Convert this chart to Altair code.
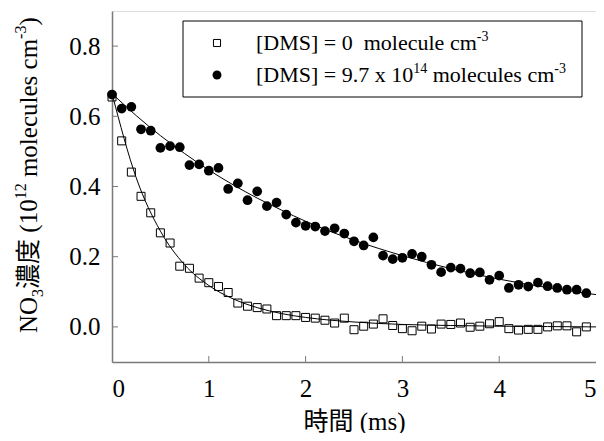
import altair as alt
import pandas as pd

# ---------------- data ----------------
time_ms = [0.0, 0.1, 0.2, 0.3, 0.4, 0.5, 0.6, 0.7, 0.8, 0.9,
           1.0, 1.1, 1.2, 1.3, 1.4, 1.5, 1.6, 1.7, 1.8, 1.9,
           2.0, 2.1, 2.2, 2.3, 2.4, 2.5, 2.6, 2.7, 2.8, 2.9,
           3.0, 3.1, 3.2, 3.3, 3.4, 3.5, 3.6, 3.7, 3.8, 3.9,
           4.0, 4.1, 4.2, 4.3, 4.4, 4.5, 4.6, 4.7, 4.8, 4.9]

no3_dms0 = [0.655, 0.530, 0.441, 0.372, 0.325, 0.268, 0.239, 0.173, 0.167, 0.139,
            0.126, 0.115, 0.098, 0.068, 0.059, 0.055, 0.051, 0.032, 0.032, 0.032,
            0.027, 0.025, 0.019, 0.011, 0.025, -0.008, 0.002, 0.008, 0.023, 0.004,
            -0.005, -0.011, 0.002, -0.006, 0.008, 0.007, 0.011, -0.001, 0.002, 0.009,
            0.015, -0.005, -0.009, -0.007, -0.007, 0.000, 0.003, 0.003, -0.014, 0.000]

no3_dms97 = [0.662, 0.622, 0.627, 0.563, 0.559, 0.510, 0.515, 0.512, 0.461, 0.463,
             0.445, 0.453, 0.393, 0.409, 0.361, 0.386, 0.344, 0.354, 0.320, 0.297,
             0.288, 0.286, 0.273, 0.281, 0.266, 0.244, 0.232, 0.255, 0.203, 0.193,
             0.197, 0.208, 0.200, 0.177, 0.156, 0.169, 0.166, 0.153, 0.155, 0.134,
             0.146, 0.111, 0.120, 0.115, 0.126, 0.116, 0.111, 0.106, 0.106, 0.096]

fit_t = [0.0, 0.25, 0.5, 0.75, 1.0, 1.25, 1.5, 1.75, 2.0, 2.5, 3.0, 3.5, 4.0, 4.5, 5.0]
fit_dms0 = [0.665, 0.425, 0.273, 0.177, 0.118, 0.080, 0.055, 0.038, 0.027,
            0.014, 0.007, 0.004, 0.002, 0.001, 0.000]
fit_dms97 = [0.665, 0.602, 0.545, 0.494, 0.447, 0.405, 0.367, 0.333, 0.301,
             0.247, 0.203, 0.166, 0.136, 0.112, 0.092]

y_ticks = [0.0, 0.2, 0.4, 0.6, 0.8]
x_ticks = [0, 1, 2, 3, 4, 5]
x_inner_ticks = [1, 2, 3, 4]

# ---------------- layout / style ----------------
W, H = 484, 351
SERIF = "Liberation Serif"
CJK_MIX = "Liberation Serif, Noto Sans CJK JP"
CJK = "Noto Sans CJK JP"
GRAY = "#7a7a7a"

pts = pd.DataFrame({"t": time_ms, "a": no3_dms0, "b": no3_dms97})
fit = pd.DataFrame({"t": fit_t, "a": fit_dms0, "b": fit_dms97})

xs = alt.Scale(domain=[0, 5], nice=False, zero=False)
ys = alt.Scale(domain=[-0.1, 0.9], nice=False, zero=False)

X = alt.X("t:Q", scale=xs, axis=alt.Axis(
    values=x_ticks, format="d", ticks=False, grid=False,
    domainColor=GRAY, domainWidth=1.5,
    labelFont=SERIF, labelFontSize=25, labelColor="black", labelPadding=14,
    title="時間 (ms)", titleFont=CJK_MIX, titleFontSize=25, titleFontWeight="normal",
    titleColor="black", titleBaseline="middle", titleY=59))

yaxis = alt.Axis(values=y_ticks, format=".1f", ticks=False, grid=False,
                 domainColor=GRAY, domainWidth=1.5,
                 labelFont=SERIF, labelFontSize=25, labelColor="black",
                 labelPadding=12, title=None)

line_a = alt.Chart(fit).mark_line(color="black", strokeWidth=1, interpolate="monotone").encode(
    x=X, y=alt.Y("a:Q", scale=ys, axis=yaxis))
line_b = alt.Chart(fit).mark_line(color="black", strokeWidth=1, interpolate="monotone").encode(
    x="t:Q", y=alt.Y("b:Q", scale=ys))
sq = alt.Chart(pts).mark_point(shape="square", size=64, filled=False, color="black",
                               strokeWidth=1, opacity=1).encode(x="t:Q", y=alt.Y("a:Q", scale=ys))
ci = alt.Chart(pts).mark_point(shape="circle", size=95, filled=True, color="black",
                               opacity=1).encode(x="t:Q", y=alt.Y("b:Q", scale=ys))

# inward ticks
ytk = alt.Chart(pd.DataFrame({"v": y_ticks})).mark_rule(color=GRAY, strokeWidth=1).encode(
    y=alt.Y("v:Q", scale=ys), x=alt.value(0), x2=alt.value(6))
xtk = alt.Chart(pd.DataFrame({"v": x_inner_ticks})).mark_rule(color=GRAY, strokeWidth=1).encode(
    x=alt.X("v:Q", scale=xs), y=alt.value(H), y2=alt.value(H - 6))

one = alt.Data(values=[{"k": 1}])


def txt(s, x, y, size, angle=0, dy=0, font=SERIF):
    return alt.Chart(one).mark_text(text=s, font=font, fontSize=size, angle=angle, dy=dy,
                                    align="left", baseline="alphabetic", color="black").encode(
        x=alt.value(x), y=alt.value(y))


# Times/Liberation Serif advance widths (per 1000 em)
ADV = {"[": 333, "]": 333, "D": 722, "M": 889, "S": 556, " ": 250, "\u00a0": 250,
       "=": 564, "0": 500, "1": 500, "2": 500, "3": 500, "4": 500, "7": 500, "9": 500,
       ".": 250, "x": 500, "m": 778, "o": 500, "l": 278, "e": 444, "c": 444, "u": 500,
       "s": 389, "(": 333, ")": 333, "-": 333, "N": 722, "O": 722}


def width(s, size):
    return sum(ADV.get(ch, 1000) for ch in s) * size / 1000.0


def split_lead(s):
    stripped = s.lstrip(" ")
    return len(s) - len(stripped), stripped


def rich_h(parts, x0, y0, size, sup):
    out = []
    x = x0
    for s, kind in parts:
        fs = size if kind == "n" else sup
        dy = 0 if kind == "n" else (-9 if kind == "sup" else 5)
        n, body = split_lead(s)
        x += n * 250 * fs / 1000.0
        out.append(txt(body, x, y0, fs, dy=dy))
        x += width(body, fs)
    return out


def rich_v(parts, xb, y0, size, sup):
    out = []
    y = y0
    for s, kind in parts:
        fs = size if kind == "n" else sup
        dy = 0 if kind == "n" else (-11 if kind == "sup" else 6)
        n, body = split_lead(s)
        y -= n * 250 * fs / 1000.0
        f = CJK if any(ord(c) > 0x2E80 for c in body) else SERIF
        out.append(txt(body, xb, y, fs, angle=270, dy=dy, font=f))
        y -= width(body, fs)
    return out


# legend box and entries (plot coordinates)
box = alt.Chart(one).mark_rect(fill="white", stroke="black", strokeWidth=1).encode(
    x=alt.value(71), x2=alt.value(470), y=alt.value(10), y2=alt.value(86))
leg_sq = alt.Chart(one).mark_point(shape="square", size=50, filled=False, color="black",
                                   strokeWidth=1, opacity=1).encode(x=alt.value(105), y=alt.value(32))
leg_ci = alt.Chart(one).mark_point(shape="circle", size=80, filled=True, color="black",
                                   opacity=1).encode(x=alt.value(105), y=alt.value(64))

row1 = rich_h([("[DMS] = 0 \u00a0molecule cm", "n"), ("-3", "sup")], 144, 39, 22, 14)
row2 = rich_h([("[DMS] = 9.7 x 10", "n"), ("14", "sup"), (" molecules cm", "n"), ("-3", "sup")],
              144, 71, 22, 14)

ytitle = rich_v([("NO", "n"), ("3", "sub"), ("濃度", "n"), (" (10", "n"), ("12", "sup"),
                 (" molecules cm", "n"), ("-3", "sup"), (")", "n")], -75, 322, 25, 16)

chart = alt.layer(line_a, line_b, ytk, xtk, sq, ci, box, leg_sq, leg_ci,
                  *row1, *row2, *ytitle).properties(
    width=W, height=H,
    autosize=alt.AutoSizeParams(type="none"),
    padding={"left": 104, "top": 3, "right": 0, "bottom": 71},
).configure_view(stroke="black", strokeWidth=1).configure(background="white")

chart.save("out.html", embed_options={"renderer": "svg", "actions": False})
